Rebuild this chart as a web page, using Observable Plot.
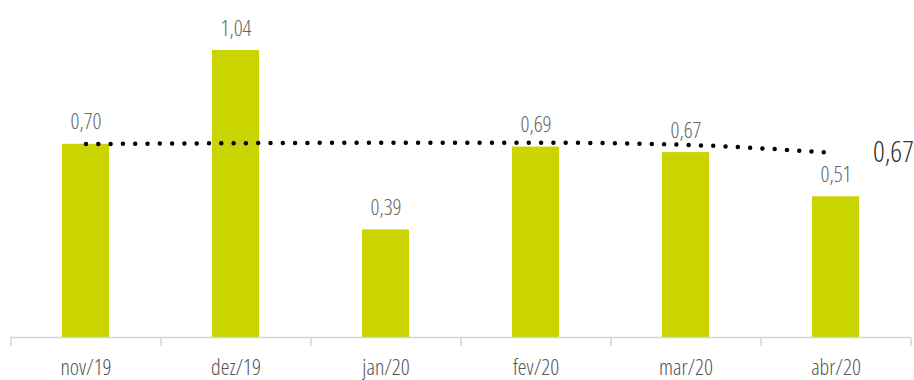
<!DOCTYPE html>
<html>
<head>
<meta charset="utf-8">
<script src="https://cdn.jsdelivr.net/npm/d3@7"></script>
<script src="https://cdn.jsdelivr.net/npm/@observablehq/plot@0.6"></script>
<style>
  html, body { margin: 0; padding: 0; background: #fff; }
  #chart svg { display: block; }
  #chart svg text { font-stretch: 75%; }
</style>
</head>
<body>
<div id="chart"></div>
<script>
const months = ["nov/19", "dez/19", "jan/20", "fev/20", "mar/20", "abr/20"];
const values = [0.70, 1.04, 0.39, 0.69, 0.67, 0.51];
const trend = [0.701, 0.704, 0.706, 0.706, 0.698, 0.668];
const trendLabel = "0,67";

const bars = months.map((m, i) => ({month: m, value: values[i], trend: trend[i]}));
const fmt = v => v.toFixed(2).replace(".", ",");

const W = 914, H = 380, mL = 10, mR = 4;
const halfStep = (W - mL - mR) / months.length / 2;
const font = "'Open Sans', 'DejaVu Sans Condensed', sans-serif";

const chart = Plot.plot({
  width: W,
  height: H,
  marginLeft: mL,
  marginRight: mR,
  marginTop: 50,
  marginBottom: 43,
  style: {fontFamily: font, background: "#fff", overflow: "visible"},
  x: {domain: months, paddingInner: 0.69, paddingOuter: 0.345, label: null},
  y: {domain: [0, 1.04], axis: null},
  marks: [
    Plot.barY(bars, {x: "month", y: "value", fill: "#c9d400"}),
    Plot.ruleY([0], {stroke: "#d4d4d4", strokeWidth: 1.5}),
    Plot.ruleX(months, {x: d => d, y1: 0, y2: 0, dx: -halfStep, insetBottom: -9, stroke: "#d4d4d4", strokeWidth: 1.5}),
    Plot.ruleX(months.slice(-1), {x: d => d, y1: 0, y2: 0, dx: halfStep, insetBottom: -9, stroke: "#d4d4d4", strokeWidth: 1.5}),
    Plot.axisX({tickSize: 0, tickPadding: 22, fontSize: 22, fill: "#555", fontFamily: font, fontWeight: 300, label: null}),
    Plot.text(bars, {x: "month", y: "value", text: d => fmt(d.value), lineAnchor: "bottom", dy: -15, fontSize: 22, fill: "#666", fontFamily: font, fontWeight: 300}),
    Plot.line(bars, {x: "month", y: "trend", curve: "monotone-x", stroke: "#000", strokeWidth: 4.5, strokeLinecap: "round", strokeDasharray: "0,12.3"}),
    Plot.text(bars.slice(-1), {x: "month", y: "trend", text: () => trendLabel, textAnchor: "end", dx: 78, fontSize: 29, fill: "#333", fontFamily: font, fontWeight: 300})
  ]
});
document.getElementById("chart").appendChild(chart);
</script>
</body>
</html>
